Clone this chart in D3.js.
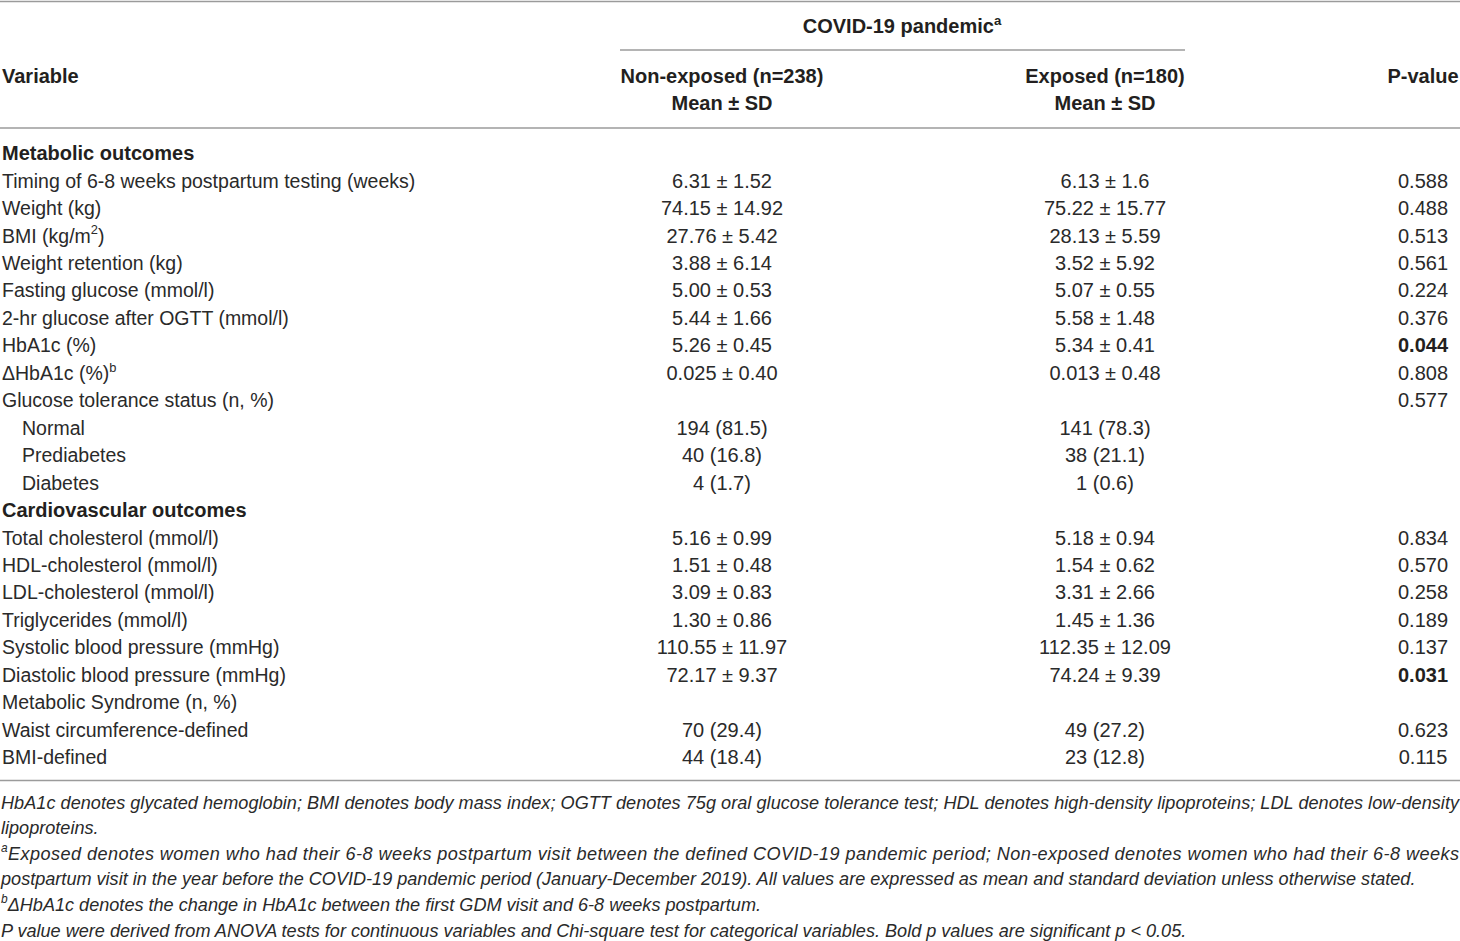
<!DOCTYPE html>
<html>
<head>
<meta charset="utf-8">
<script src="https://cdn.jsdelivr.net/npm/d3@7"></script>
<style>
  html, body { margin: 0; padding: 0; background: #fff; }
  svg { display: block; }
</style>
</head>
<body>
<svg id="chart" width="1460" height="941"></svg>
<script>
// ---------- DATA ----------
const groupHeader = "COVID-19 pandemic^a^";
const colHeaders = ["Variable", "Non-exposed (n=238)", "Exposed (n=180)", "P-value"];
const subHeaders = ["", "Mean ± SD", "Mean ± SD", ""];

const variables = [
  "Metabolic outcomes",
  "Timing of 6-8 weeks postpartum testing (weeks)",
  "Weight (kg)",
  "BMI (kg/m^2^)",
  "Weight retention (kg)",
  "Fasting glucose (mmol/l)",
  "2-hr glucose after OGTT (mmol/l)",
  "HbA1c (%)",
  "ΔHbA1c (%)^b^",
  "Glucose tolerance status (n, %)",
  "Normal",
  "Prediabetes",
  "Diabetes",
  "Cardiovascular outcomes",
  "Total cholesterol (mmol/l)",
  "HDL-cholesterol (mmol/l)",
  "LDL-cholesterol (mmol/l)",
  "Triglycerides (mmol/l)",
  "Systolic blood pressure (mmHg)",
  "Diastolic blood pressure (mmHg)",
  "Metabolic Syndrome (n, %)",
  "Waist circumference-defined",
  "BMI-defined"
];
const rowKinds = [
  "section","row","row","row","row","row","row","row","row","row",
  "indent","indent","indent",
  "section","row","row","row","row","row","row","row","row","row"
];
const nonExposed = [
  "", "6.31 ± 1.52", "74.15 ± 14.92", "27.76 ± 5.42", "3.88 ± 6.14", "5.00 ± 0.53",
  "5.44 ± 1.66", "5.26 ± 0.45", "0.025 ± 0.40", "", "194 (81.5)", "40 (16.8)", "4 (1.7)",
  "", "5.16 ± 0.99", "1.51 ± 0.48", "3.09 ± 0.83", "1.30 ± 0.86", "110.55 ± 11.97",
  "72.17 ± 9.37", "", "70 (29.4)", "44 (18.4)"
];
const exposed = [
  "", "6.13 ± 1.6", "75.22 ± 15.77", "28.13 ± 5.59", "3.52 ± 5.92", "5.07 ± 0.55",
  "5.58 ± 1.48", "5.34 ± 0.41", "0.013 ± 0.48", "", "141 (78.3)", "38 (21.1)", "1 (0.6)",
  "", "5.18 ± 0.94", "1.54 ± 0.62", "3.31 ± 2.66", "1.45 ± 1.36", "112.35 ± 12.09",
  "74.24 ± 9.39", "", "49 (27.2)", "23 (12.8)"
];
const pValues = [
  "", "0.588", "0.488", "0.513", "0.561", "0.224", "0.376", "0.044", "0.808", "0.577",
  "", "", "", "", "0.834", "0.570", "0.258", "0.189", "0.137", "0.031", "", "0.623", "0.115"
];
const pBold = [
  false,false,false,false,false,false,false,true,false,false,false,false,false,
  false,false,false,false,false,false,true,false,false,false
];
const footnotes = [
  {text: "HbA1c denotes glycated hemoglobin; BMI denotes body mass index; OGTT denotes 75g oral glucose tolerance test; HDL denotes high-density lipoproteins; LDL denotes low-density", justify: true},
  {text: "lipoproteins.", justify: false},
  {text: "^a^Exposed denotes women who had their 6-8 weeks postpartum visit between the defined COVID-19 pandemic period; Non-exposed denotes women who had their 6-8 weeks", justify: true},
  {text: "postpartum visit in the year before the COVID-19 pandemic period (January-December 2019). All values are expressed as mean and standard deviation unless otherwise stated.", justify: false},
  {text: "^b^ΔHbA1c denotes the change in HbA1c between the first GDM visit and 6-8 weeks postpartum.", justify: false},
  {text: "P value were derived from ANOVA tests for continuous variables and Chi-square test for categorical variables. Bold p values are significant p < 0.05.", justify: false}
];

// ---------- LAYOUT ----------
const W = 1460, H = 941;
const svg = d3.select("#chart");
const ink = "#231f20";
const bodyInk = "#2a2a2a";
const rule = "#9b9b9b";
const bodyFont = "'Liberation Sans', Arial, Helvetica, sans-serif";
const headFont = "'Liberation Sans', Arial, Helvetica, sans-serif";
const bodySize = 20;
const labelSize = 19.5;
const headSize = 20;
const footSize = 18.1;

const colX = d3.scaleOrdinal().domain(["var","ne","ex","p"]).range([2, 722, 1105, 1423]);
const rowY = d3.scaleLinear().domain([0, variables.length - 1]).range([153, 757]);
const footY = d3.scaleLinear().domain([0, footnotes.length - 1]).range([802, 930]);

// rich text: "^x^" marks a superscript
function parseRich(s) {
  const parts = [];
  const re = /\^([^\^]+)\^/g;
  let last = 0, m;
  while ((m = re.exec(s)) !== null) {
    if (m.index > last) parts.push({t: s.slice(last, m.index), sup: false});
    parts.push({t: m[1], sup: true});
    last = re.lastIndex;
  }
  if (last < s.length) parts.push({t: s.slice(last), sup: false});
  return parts;
}
function richText(sel, s, size) {
  const parts = parseRich(s);
  parts.forEach((p, i) => {
    const ts = sel.append("tspan").text(p.t);
    if (p.sup) {
      ts.attr("font-size", size * 0.66).attr("dy", -size * 0.42);
    } else if (i > 0 && parts[i-1].sup) {
      ts.attr("dy", size * 0.42);
    }
  });
}

// rules
const lines = [
  {x1: 0, x2: W, y: 1.5},
  {x1: 620, x2: 1185, y: 50},
  {x1: 0, x2: W, y: 128},
  {x1: 0, x2: W, y: 780.5}
];
svg.selectAll("line.rule").data(lines).join("line")
  .attr("class","rule")
  .attr("x1", d => d.x1).attr("x2", d => d.x2)
  .attr("y1", d => d.y).attr("y2", d => d.y)
  .attr("stroke", rule).attr("stroke-width", 1.6);

// header
const cap = bodySize * 0.36;
const gh = svg.append("text")
  .attr("x", 902).attr("y", 26 + cap)
  .attr("text-anchor","middle")
  .attr("font-family", headFont).attr("font-weight","bold")
  .attr("font-size", headSize).attr("fill", ink);
richText(gh, groupHeader, headSize);

const headCols = ["var","ne","ex","p"];
const headAnchor = ["start","middle","middle","middle"];
svg.selectAll("text.colhead").data(colHeaders).join("text")
  .attr("class","colhead")
  .attr("x", (d,i) => colX(headCols[i]))
  .attr("y", 76 + cap)
  .attr("text-anchor", (d,i) => headAnchor[i])
  .attr("font-family", headFont).attr("font-weight","bold")
  .attr("font-size", headSize).attr("fill", ink)
  .text(d => d);
svg.selectAll("text.subhead").data(subHeaders).join("text")
  .attr("class","subhead")
  .attr("x", (d,i) => colX(headCols[i]))
  .attr("y", 103 + cap)
  .attr("text-anchor", (d,i) => headAnchor[i])
  .attr("font-family", headFont).attr("font-weight","bold")
  .attr("font-size", headSize).attr("fill", ink)
  .text(d => d);

// body rows
const rows = variables.map((v, i) => ({
  v, kind: rowKinds[i], ne: nonExposed[i], ex: exposed[i], p: pValues[i], pb: pBold[i], i
}));
const g = svg.selectAll("g.row").data(rows).join("g").attr("class","row")
  .attr("transform", d => `translate(0,${rowY(d.i) + cap})`);

g.append("text")
  .attr("x", d => colX("var") + (d.kind === "indent" ? 20 : 0))
  .attr("font-family", d => d.kind === "section" ? headFont : bodyFont)
  .attr("font-weight", d => d.kind === "section" ? "bold" : "normal")
  .attr("font-size", d => d.kind === "section" ? headSize : labelSize)
  .attr("fill", d => d.kind === "section" ? ink : bodyInk)
  .each(function(d) { richText(d3.select(this), d.v, labelSize); });

g.append("text")
  .attr("x", colX("ne")).attr("text-anchor","middle")
  .attr("font-family", bodyFont).attr("font-size", bodySize).attr("fill", bodyInk)
  .text(d => d.ne);
g.append("text")
  .attr("x", colX("ex")).attr("text-anchor","middle")
  .attr("font-family", bodyFont).attr("font-size", bodySize).attr("fill", bodyInk)
  .text(d => d.ex);
g.append("text")
  .attr("x", colX("p")).attr("text-anchor","middle")
  .attr("font-family", bodyFont).attr("font-size", bodySize)
  .attr("font-weight", d => d.pb ? "bold" : "normal")
  .attr("fill", d => d.pb ? ink : bodyInk)
  .text(d => d.p);

// footnotes
const fcap = footSize * 0.36;
svg.selectAll("text.foot").data(footnotes).join("text")
  .attr("class","foot")
  .attr("x", 1)
  .attr("y", (d,i) => footY(i) + fcap)
  .attr("font-family", bodyFont).attr("font-style","italic")
  .attr("font-size", footSize).attr("fill", bodyInk)
  .each(function(d) {
    const t = d3.select(this);
    richText(t, d.text, footSize);
    if (d.justify) t.attr("textLength", W - 2).attr("lengthAdjust", "spacing");
  });
</script>
</body>
</html>
